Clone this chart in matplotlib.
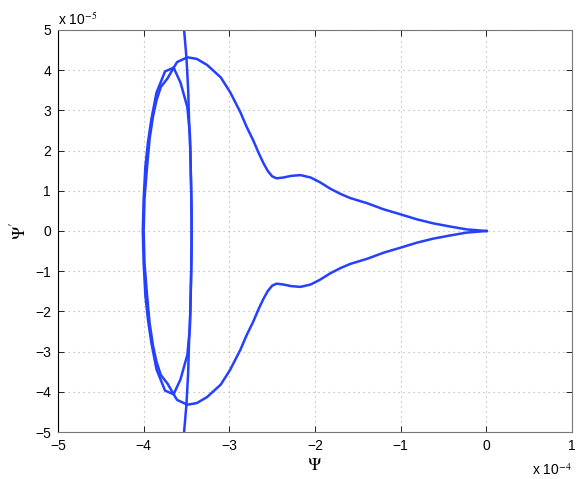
import matplotlib
matplotlib.use("Agg")
import matplotlib.pyplot as plt

# values in units of 1e-4 (psi) and 1e-5 (psi')
orbit_x = [0.0, -0.23, -0.42, -0.62, -0.81, -1.01, -1.20, -1.39, -1.59, -1.70, -1.82,
           -1.94, -2.05, -2.17, -2.28, -2.37, -2.45, -2.50, -2.55, -2.60, -2.66, -2.72,
           -2.80, -2.87, -2.99, -3.10, -3.26, -3.38, -3.49, -3.61, -3.65,
           -3.72, -3.80, -3.85, -3.89, -3.93, -3.96, -3.99, -4.00,
           -3.99, -3.96, -3.93, -3.89, -3.85, -3.80, -3.72,
           -3.65, -3.61, -3.49, -3.38, -3.26, -3.10, -2.99, -2.87, -2.80, -2.72, -2.66,
           -2.60, -2.55, -2.50, -2.45, -2.37, -2.28, -2.17, -2.05, -1.94, -1.82, -1.70,
           -1.59, -1.39, -1.20, -1.01, -0.81, -0.62, -0.42, -0.23, 0.0]
orbit_y = [0.0, 0.04, 0.11, 0.19, 0.29, 0.42, 0.54, 0.69, 0.82, 0.92, 1.05,
           1.21, 1.33, 1.39, 1.37, 1.33, 1.31, 1.36, 1.49, 1.68, 1.95, 2.25,
           2.60, 2.95, 3.45, 3.82, 4.13, 4.28, 4.32, 4.20, 4.06,
           3.80, 3.58, 3.25, 2.86, 2.30, 1.60, 0.80, 0.0,
           -0.80, -1.60, -2.30, -2.86, -3.25, -3.58, -3.80,
           -4.06, -4.20, -4.32, -4.28, -4.13, -3.82, -3.45, -2.95, -2.60, -2.25, -1.95,
           -1.68, -1.49, -1.36, -1.31, -1.33, -1.37, -1.39, -1.33, -1.21, -1.05, -0.92,
           -0.82, -0.69, -0.54, -0.42, -0.29, -0.19, -0.11, -0.04, 0.0]

loop_x = [-3.65, -3.75, -3.85, -3.91, -3.95, -3.98, -4.00, -4.01,
          -4.00, -3.98, -3.95, -3.91, -3.85, -3.75, -3.65,
          -3.57, -3.49, -3.46, -3.45, -3.44, -3.44,
          -3.44, -3.45, -3.46, -3.49, -3.57, -3.65]
loop_y = [4.06, 3.97, 3.44, 2.78, 2.20, 1.60, 0.80, 0.0,
          -0.80, -1.60, -2.20, -2.78, -3.44, -3.97, -4.06,
          -3.69, -3.08, -2.40, -1.50, -0.50, 0.0,
          0.50, 1.50, 2.40, 3.08, 3.69, 4.06]

vert_x = [-3.54, -3.50, -3.48, -3.47, -3.455, -3.445, -3.44,
          -3.445, -3.455, -3.47, -3.48, -3.50, -3.54]
vert_y = [5.3, 4.3, 3.5, 2.75, 2.0, 1.0, 0.0,
          -1.0, -2.0, -2.75, -3.5, -4.3, -5.3]

xticks = [-5, -4, -3, -2, -1, 0, 1]
yticks = [-5, -4, -3, -2, -1, 0, 1, 2, 3, 4, 5]

plt.rcParams["font.family"] = ["Liberation Sans", "DejaVu Sans"]
plt.rcParams["mathtext.fontset"] = "stix"

fig = plt.figure(figsize=(5.81, 4.79), dpi=100)
ax = fig.add_axes([0.0998, 0.098, 0.8847, 0.8395])

blue = "#2640ff"
for xs, ys in [(vert_x, vert_y), (loop_x, loop_y), (orbit_x, orbit_y)]:
    ax.plot(xs, ys, color=blue, lw=1.8, solid_joinstyle="round")

ax.set_xlim(-5, 1)
ax.set_ylim(-5, 5)
ax.set_xticks(xticks)
ax.set_yticks(yticks)
ax.set_xticklabels([str(t).replace("-", "\u2212") for t in xticks])
ax.set_yticklabels([str(t).replace("-", "\u2212") for t in yticks])
ax.tick_params(direction="in", top=True, right=True, length=4, labelsize=10,
               width=0.6, pad=5)
ax.grid(True, color="#aaaaaa", linestyle=(0, (1, 3.5)), linewidth=0.8)

for side in ["top", "right", "bottom"]:
    ax.spines[side].set_color("#777777")
ax.spines["left"].set_color("black")
for s in ax.spines.values():
    s.set_linewidth(0.8)

ax.set_xlabel(r"$\Psi$", fontsize=13, labelpad=3)
ax.set_ylabel(r"$\Psi^{\prime}$", fontsize=13, labelpad=4)

ax.text(0.0, 1.005, r"x 10$^{-5}$", transform=ax.transAxes, fontsize=10,
        ha="left", va="bottom")
ax.text(1.0, -0.075, r"x 10$^{-4}$", transform=ax.transAxes, fontsize=10,
        ha="right", va="top")

fig.savefig("out.png", dpi=100)
